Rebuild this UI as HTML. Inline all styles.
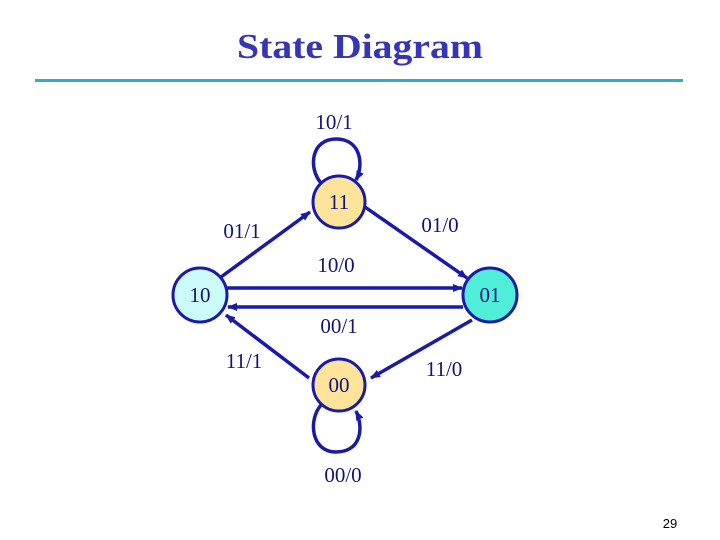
<!DOCTYPE html>
<html><head><style>
body{margin:0;background:#fff}
svg{display:block}
text{font-family:"Liberation Serif",serif}
text.pn{font-family:"Liberation Sans",sans-serif}
</style></head><body>
<svg width="720" height="540" viewBox="0 0 720 540" xmlns="http://www.w3.org/2000/svg">
<defs>
<marker id="a" markerWidth="10" markerHeight="8" refX="9" refY="4" orient="auto" markerUnits="userSpaceOnUse">
<path d="M0,0 L10,4 L0,8 Z" fill="#1a1aa8"/></marker>
</defs>
<text x="360" y="58" text-anchor="middle" font-size="35" font-weight="bold" fill="#3535b5" textLength="246" lengthAdjust="spacingAndGlyphs">State Diagram</text>
<rect x="35" y="79" width="648" height="3" fill="#33aad4"/>
<g stroke="#1a1aa8" stroke-width="3.5" fill="none">
<path d="M321,183 C308,168 311,139 336,139 C361,139 364,165 356,180" marker-end="url(#a)"/>
<path d="M321,405 C308,420 311,452 336,452 C361,452 364,428 356,411" marker-end="url(#a)"/>
<line x1="221" y1="277" x2="310" y2="212" marker-end="url(#a)"/>
<line x1="365" y1="207" x2="467" y2="278" marker-end="url(#a)"/>
<line x1="227" y1="288" x2="462" y2="288" marker-end="url(#a)"/>
<line x1="463" y1="307" x2="228" y2="307" marker-end="url(#a)"/>
<line x1="309" y1="378" x2="226" y2="315" marker-end="url(#a)"/>
<line x1="472" y1="320" x2="371" y2="378" marker-end="url(#a)"/>
</g>
<g stroke="#1a1aa8" stroke-width="3">
<circle cx="339" cy="202" r="26" fill="#fde49a"/>
<circle cx="339" cy="385" r="26" fill="#fde49a"/>
<circle cx="200" cy="295" r="27" fill="#ccfcfa"/>
<circle cx="490" cy="295" r="27" fill="#50eed8"/>
</g>
<g font-size="21" fill="#12127a" text-anchor="middle">
<text x="339" y="209">11</text>
<text x="339" y="392">00</text>
<text x="200" y="302">10</text>
<text x="490" y="302">01</text>
<text x="334" y="129">10/1</text>
<text x="242" y="238">01/1</text>
<text x="440" y="232">01/0</text>
<text x="336" y="272">10/0</text>
<text x="339" y="333">00/1</text>
<text x="244" y="368">11/1</text>
<text x="444" y="376">11/0</text>
<text x="343" y="482">00/0</text>
</g>
<text class="pn" x="670" y="528" font-size="13" text-anchor="middle" fill="#000">29</text>
</svg>
</body></html>
